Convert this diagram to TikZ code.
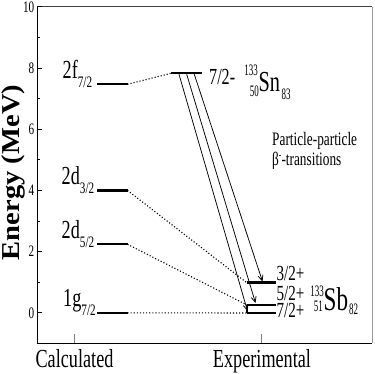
\documentclass[tikz,border=0pt]{standalone}
\usepackage{graphicx}
\usepackage{fontspec}
\setmainfont{Liberation Serif}[FakeStretch=0.7]
\newfontfamily\ylabfont{Liberation Serif}
\usetikzlibrary{arrows.meta}
\newcommand\fs[1]{\fontsize{#1}{#1}\selectfont}
\newcommand\nd[1]{\scalebox{0.8}[1]{#1}}
\begin{document}
\begin{tikzpicture}[x=1pt,y=-1pt,
  level/.style={line width=2.3pt},
  conn/.style={line width=1.1pt, dash pattern=on 1.1pt off 2pt},
  trans/.style={line width=0.75pt,-{Straight Barb[length=5.5pt,width=5pt]}},
  lbl/.style={inner sep=0pt, anchor=base west},
  lble/.style={inner sep=0pt, anchor=base east}]
\useasboundingbox (0,0) rectangle (374,374);
% frame
\draw[line width=0.9pt] (37,6.8) -- (37,343.4) -- (372,343.4);
\draw[line width=0.9pt, black!75] (37,6.8) -- (372,6.8);
\draw[line width=0.9pt, black!40] (372,6.8) -- (372,343.4);
% y ticks
\foreach \e in {0,2,...,10} {
  \draw[line width=0.7pt] (37,{312.8-30.6*\e}) -- ++(4.5,0);
  \node[anchor=east, inner sep=0pt] (t\e) at (34.5,{312.8-30.6*\e}) {\fs{16}\e};
}
\foreach \e in {1,3,...,9} {
  \draw[line width=0.7pt] (37,{312.8-30.6*\e}) -- ++(3,0);
}
% x ticks
\draw[gray, line width=0.7pt] (74.7,343.4) -- ++(0,-9);
\draw[gray, line width=0.7pt] (261,343.4) -- ++(0,-9);
\node[anchor=base, inner sep=0pt] (calc) at (74.5,367.5) {\fs{26}Calculated};
\node[anchor=base, inner sep=0pt] (expt) at (262,367.5) {\fs{26}Experimental};
\node[rotate=90, anchor=base, inner sep=0pt] (ylab) at (19,172.5)
  {\ylabfont\bfseries\fs{28}\scalebox{1.02}[0.92]{Energy (MeV)}};
% calculated levels
\coordinate (f72L) at (97,84.3);   \coordinate (f72R) at (127.5,84.3);
\coordinate (d32L) at (97,190.4);  \coordinate (d32R) at (127.5,190.4);
\coordinate (d52L) at (97,244.3);  \coordinate (d52R) at (127.5,244.3);
\coordinate (g72L) at (97,312.8);  \coordinate (g72R) at (127.5,312.8);
\draw[level] (f72L) -- (f72R);
\draw[level] (d32L) -- (d32R);
\draw[level] (d52L) -- (d52R);
\draw[level] (g72L) -- (g72R);
\node[lbl] (f72t) at (62.5,78.3) {\fs{26}2f\raisebox{-9pt}{\fs{16}7/2}};
\node[lbl] (d32t) at (61.5,184.4) {\fs{26}2d\raisebox{-9pt}{\fs{16}3/2}};
\node[lbl] (d52t) at (61.5,238.3) {\fs{26}2d\raisebox{-9pt}{\fs{16}5/2}};
\node[lbl] (g72t) at (63,306.8) {\fs{26}1g\raisebox{-9pt}{\fs{16}7/2}};
% experimental levels
\coordinate (snL) at (171,73.3);   \coordinate (snR) at (202,73.3);
\coordinate (s32L) at (246.5,282.5); \coordinate (s32R) at (275.5,282.5);
\coordinate (s52L) at (247,305);   \coordinate (s52R) at (276,305);
\coordinate (s72L) at (247,313);   \coordinate (s72R) at (276,313);
\draw[level] (snL) -- (snR);
\draw[level] (s32L) -- (s32R);
\draw[line width=1.7pt] (s52L) -- (s52R);
\draw[line width=2.6pt] (s72L) -- (s72R);
\draw[line width=1.3pt] (s52L) -- (s72L);
% correspondence
\draw[conn] (f72R) -- (snL);
\draw[conn] (d32R) -- (s32L);
\draw[conn] (d52R) -- (s52L);
\draw[conn] (g72R) -- (s72L);
% transitions
\coordinate (a1s) at (179,74.3);   \coordinate (a1e) at (247.5,311);
\coordinate (a2s) at (186.7,74.3); \coordinate (a2e) at (255.5,303);
\coordinate (a3s) at (194.3,74.3); \coordinate (a3e) at (262.5,281.5);
\draw[trans] (a1s) -- (a1e);
\draw[trans] (a2s) -- (a2e);
\draw[trans] (a3s) -- (a3e);
% labels right
\node[lbl] (sn72) at (209,85) {\fs{23}7/2-};
\node[lble] (snA) at (258,76) {\fs{16}\nd{133}};
\node[lble] (snZ) at (259,97) {\fs{16}\nd{50}};
\node[lbl] (sn) at (258.5,92) {\fs{29}Sn};
\node[lbl] (snN) at (281.5,99.5) {\fs{16}\nd{83}};
\node[lbl] (j32) at (276.5,280) {\fs{21.5}3/2+};
\node[lbl] (j52) at (276.5,300) {\fs{21.5}5/2+};
\node[lbl] (j72) at (276.5,317) {\fs{21.5}7/2+};
\node[lble] (sbA) at (324,296.7) {\fs{16}\nd{133}};
\node[lble] (sbZ) at (323,311.7) {\fs{16}\nd{51}};
\node[lbl] (sb) at (323.5,310) {\fs{33}Sb};
\node[lbl] (sbN) at (349,314.3) {\fs{16}\nd{82}};
\node[lbl] (pp1) at (272,146) {\fs{19}Particle-particle};
\node[lbl] (pp2) at (272,165) {\fs{19}β\raisebox{6.5pt}{\fs{11}-}-transitions};
\end{tikzpicture}
\end{document}
